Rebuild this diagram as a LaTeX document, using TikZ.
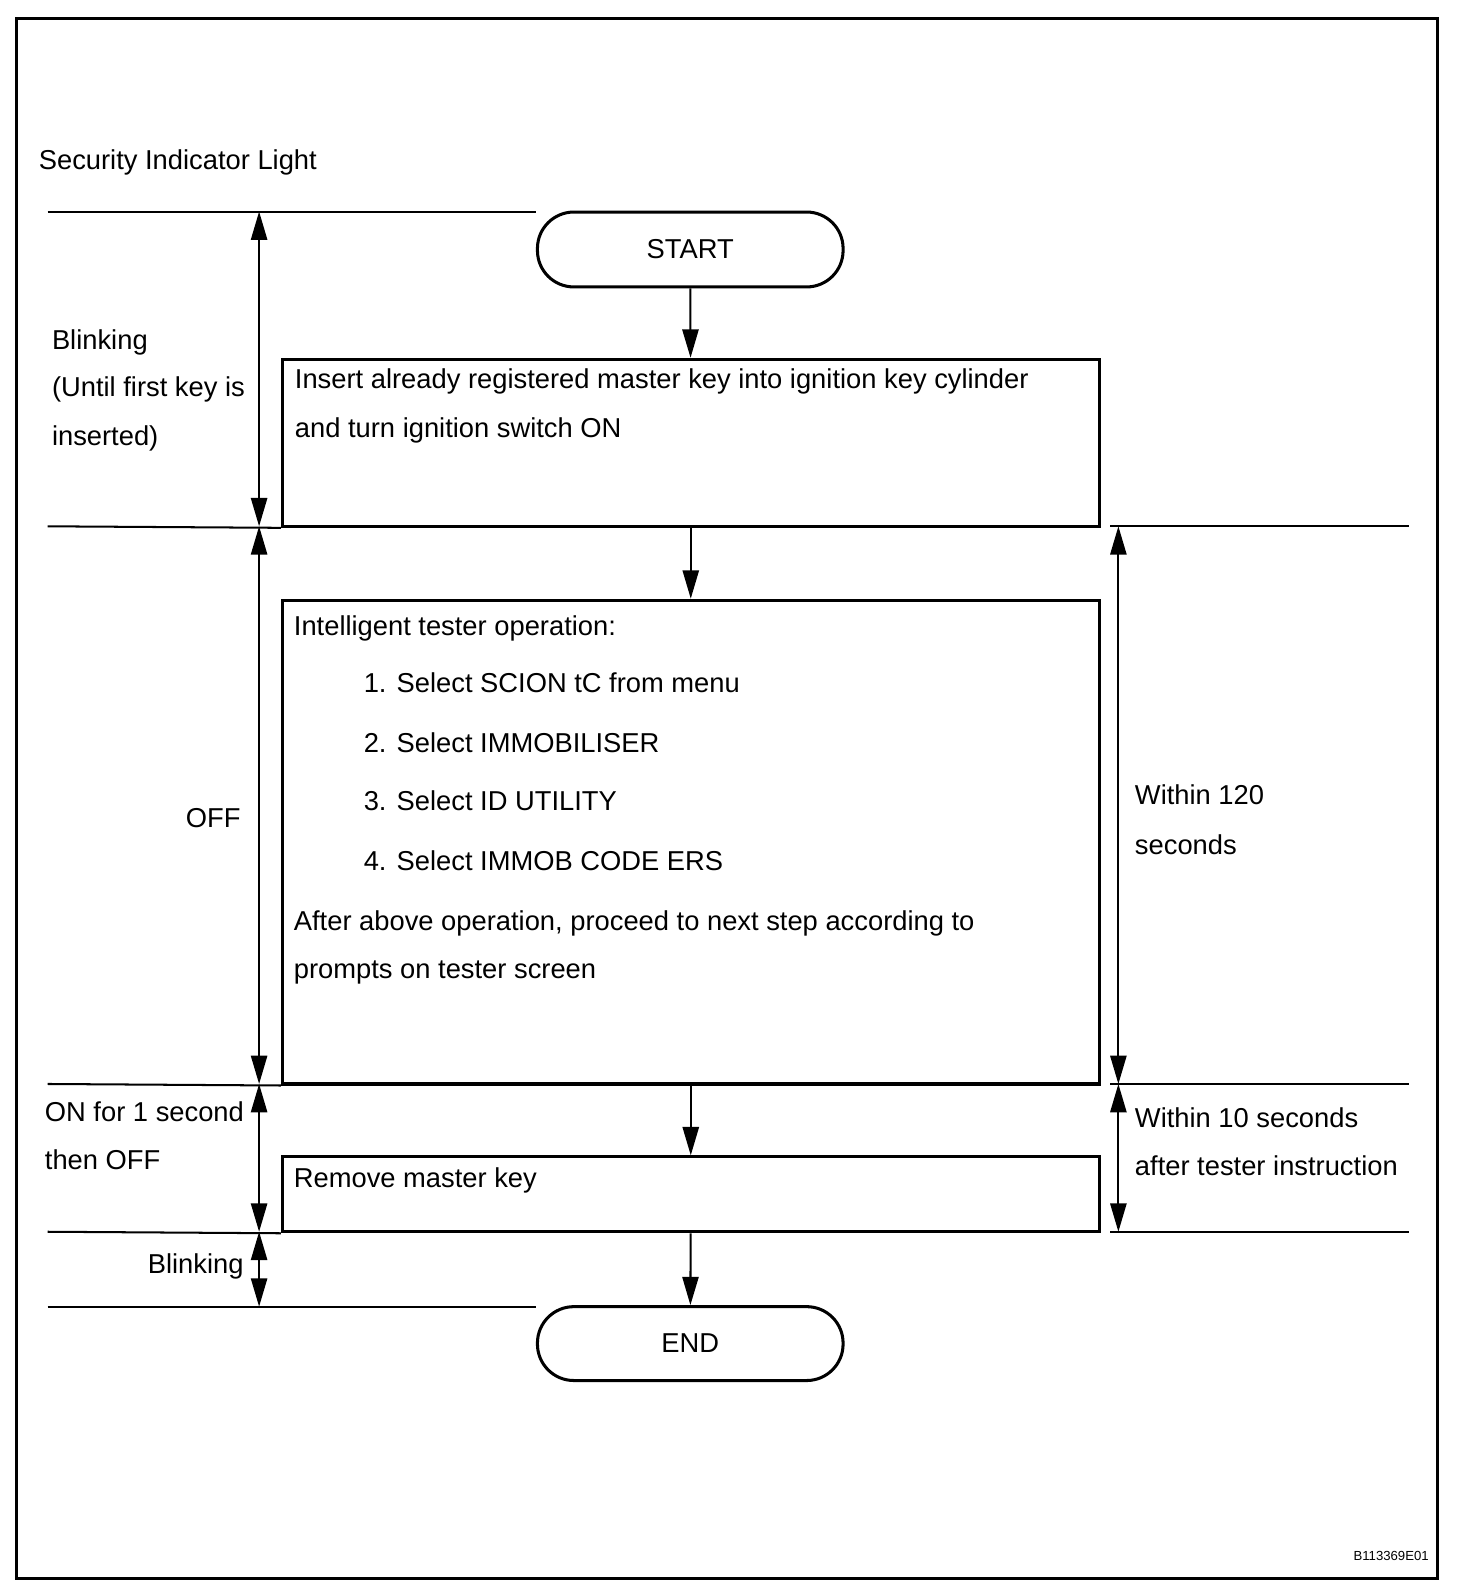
\documentclass[tikz,border=0pt]{standalone}
\usepackage{fontspec}
\setmainfont{Liberation Sans}
\usetikzlibrary{arrows.meta}
\tikzstyle{texto}=[inner sep=0pt,anchor=base west]
\tikzstyle{textod}=[inner sep=0pt,anchor=base east]
\tikzstyle{caja}=[draw,line width=1.5pt,minimum width=403.5pt,inner sep=0pt]
\tikzstyle{ovalo}=[draw,line width=1.5pt,rounded corners=18pt,minimum width=151pt,minimum height=37pt,inner sep=0pt]
\tikzstyle{flecha}=[line width=1pt,-{Triangle[length=14pt,width=8pt]}]
\tikzstyle{cota}=[line width=1pt,{Triangle[length=14pt,width=8pt]}-{Triangle[length=14pt,width=8pt]}]
\tikzstyle{linea}=[line width=1pt]

\begin{document}
\begin{tikzpicture}[x=0.5pt,y=-0.5pt,font=\fontsize{13.5}{16}\selectfont]
    \useasboundingbox (0,0) rectangle (1439,1569);
    \draw [line width=1.5pt] (16,18) rectangle (1420,1560);
    % flow boxes
    \node [ovalo] (inicio) at (682,246.5) {START};
    \node [caja, minimum height=82.5pt] (paso1) at (682.5,437.5) {};
    \node [caja, minimum height=239pt] (paso2) at (682.5,832) {};
    \node [caja, minimum height=37pt] (paso3) at (682.5,1180) {};
    \node [ovalo, minimum height=36.5pt] (fin) at (682,1327.5) {END};
    \draw [flecha] (inicio) -- (paso1);
    \draw [flecha] (paso1) -- (paso2);
    \draw [flecha] (paso2) -- (paso3);
    \draw [flecha] (paso3) -- (fin);
    % texts in boxes
    \node [texto] (t1a) at (291,384) {Insert already registered master key into ignition key cylinder};
    \node [texto] (t1b) at (291,432) {and turn ignition switch ON};
    \node [texto] (t2a) at (290,628) {Intelligent tester operation:};
    \node [texto] (t2b) at (359,684) {1. Select SCION tC from menu};
    \node [texto] (t2c) at (359,743) {2. Select IMMOBILISER};
    \node [texto] (t2d) at (359,801) {3. Select ID UTILITY};
    \node [texto] (t2e) at (359,860) {4. Select IMMOB CODE ERS};
    \node [texto] (t2f) at (290,919) {After above operation, proceed to next step according to};
    \node [texto] (t2g) at (290,967) {prompts on tester screen};
    \node [texto] (t3a) at (290,1173) {Remove master key};
    % reference lines
    \coordinate (a1) at (47,209);
    \coordinate (a2) at (47,520);
    \coordinate (a3) at (47,1071);
    \coordinate (a4) at (47,1217);
    \coordinate (a5) at (47,1291);
    \draw [linea] (a1) -- (a1 -| inicio.west);
    \draw [linea] (a2) -- (paso1.south west);
    \draw [linea] (a3) -- (paso2.south west);
    \draw [linea] (a4) -- (paso3.south west);
    \draw [linea] (a5) -- (a5 -| fin.west);
    \coordinate (b2) at (1097,520);
    \coordinate (b3) at (1097,1071);
    \coordinate (b4) at (1097,1217);
    \draw [linea] (b2) -- ++(295,0);
    \draw [linea] (b3) -- ++(295,0);
    \draw [linea] (b4) -- ++(295,0);
    % dimension arrows
    \coordinate (c1) at (256,209);
    \coordinate (c2) at (256,520);
    \coordinate (c3) at (256,1071);
    \coordinate (c4) at (256,1217);
    \coordinate (c5) at (256,1291);
    \draw [cota] (c1) -- (c2);
    \draw [cota] (c2) -- (c3);
    \draw [cota] (c3) -- (c4);
    \draw [cota] (c4) -- (c5);
    \coordinate (d2) at (1105,520);
    \coordinate (d3) at (1105,1071);
    \coordinate (d4) at (1105,1217);
    \draw [cota] (d2) -- (d3);
    \draw [cota] (d3) -- (d4);
    % light states
    \node [texto] (s0) at (38,167) {Security Indicator Light};
    \node [texto] (s1a) at (51,345) {Blinking};
    \node [texto] (s1b) at (51,392) {(Until first key is};
    \node [texto] (s1c) at (51,440) {inserted)};
    \node [textod] (s2) at (238,818) {OFF};
    \node [texto] (s3a) at (44,1108) {ON for 1 second};
    \node [texto] (s3b) at (44,1155) {then OFF};
    \node [textod] (s4) at (241,1258) {Blinking};
    % time limits
    \node [texto] (w1a) at (1121,795) {Within 120};
    \node [texto] (w1b) at (1121,844) {seconds};
    \node [texto] (w2a) at (1121,1114) {Within 10 seconds};
    \node [texto] (w2b) at (1121,1161) {after tester instruction};
    \node [textod, font=\fontsize{6.5}{8}\selectfont] (ref) at (1412,1542) {B113369E01};
\end{tikzpicture}
\end{document}
